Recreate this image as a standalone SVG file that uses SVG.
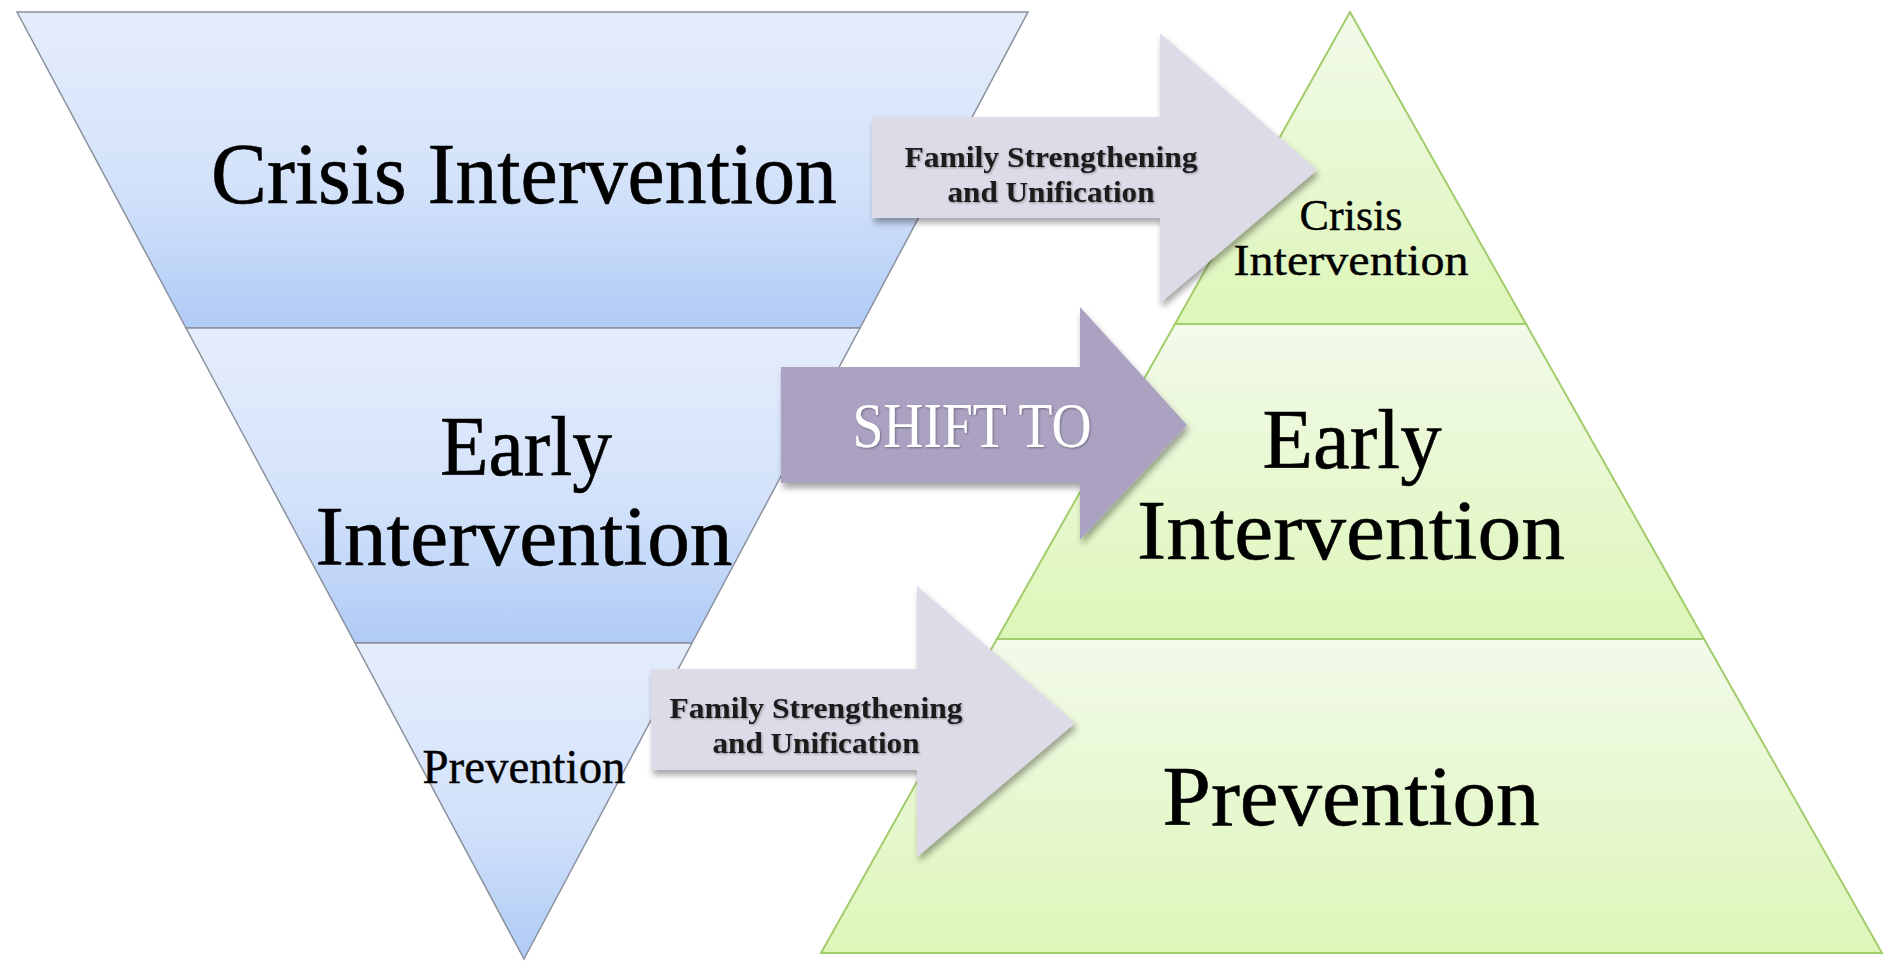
<svg xmlns="http://www.w3.org/2000/svg" width="1884" height="962" viewBox="0 0 1884 962">
<defs>
<linearGradient id="gBlue" x1="0" y1="0" x2="0" y2="1">
<stop offset="0" stop-color="#e5edfc"/>
<stop offset="0.55" stop-color="#d3e2fa"/>
<stop offset="1" stop-color="#b0cbf6"/>
</linearGradient>
<linearGradient id="gGreen" x1="0" y1="0" x2="0" y2="1">
<stop offset="0" stop-color="#f2faea"/>
<stop offset="1" stop-color="#ddf6b8"/>
</linearGradient>
<filter id="shadow" x="-10%" y="-10%" width="125%" height="130%">
<feDropShadow dx="2" dy="5" stdDeviation="3" flood-color="#000" flood-opacity="0.35"/>
</filter>
<filter id="tshadow" x="-5%" y="-10%" width="110%" height="130%">
<feDropShadow dx="1" dy="1" stdDeviation="0.8" flood-color="#000" flood-opacity="0.35"/>
</filter>
</defs>
<style>
.blue{fill:url(#gBlue);stroke:#8a909c;stroke-width:1.5}
.green{fill:url(#gGreen);stroke:#a3cc6c;stroke-width:2}
.lbl{font-family:"Liberation Serif","DejaVu Serif",serif;fill:#000;stroke:#000;stroke-width:0.6;text-anchor:middle}
.bold{font-family:"Liberation Serif","DejaVu Serif",serif;font-weight:bold;fill:#1a1a1a;text-anchor:middle}
.arrowLight{fill:#dddbe8}
.arrowDark{fill:#aba2c2}
.white{font-family:"Liberation Serif","DejaVu Serif",serif;fill:#ffffff;text-anchor:middle}
</style>
<rect width="1884" height="962" fill="#ffffff"/>

<g id="inverted-pyramid">
<g id="left-crisis">
<polygon class="blue" points="17,12 1028,12 860,328 186,328"/>
<text class="lbl" x="524" y="203" font-size="86" textLength="626" lengthAdjust="spacingAndGlyphs">Crisis Intervention</text>
</g>
<g id="left-early">
<polygon class="blue" points="186,328 860,328 692,643 355,643"/>
<text class="lbl" x="526" y="475" font-size="84" textLength="172" lengthAdjust="spacingAndGlyphs">Early</text>
<text class="lbl" x="524" y="565" font-size="84" textLength="417" lengthAdjust="spacingAndGlyphs">Intervention</text>
</g>
<g id="left-prevention">
<polygon class="blue" points="355,643 692,643 524,959"/>
<text class="lbl" x="524" y="783" font-size="49" textLength="203" lengthAdjust="spacingAndGlyphs" style="stroke-width:0.4">Prevention</text>
</g>
</g>

<g id="pyramid">
<g id="right-crisis">
<polygon class="green" points="1350,12 1526,324 1175,324"/>
<text class="lbl" x="1351" y="230" font-size="44" textLength="103" lengthAdjust="spacingAndGlyphs" style="stroke-width:0.4">Crisis</text>
<text class="lbl" x="1351" y="275" font-size="44" textLength="235" lengthAdjust="spacingAndGlyphs" style="stroke-width:0.4">Intervention</text>
</g>
<g id="right-early">
<polygon class="green" points="1175,324 1526,324 1704,639 997,639"/>
<text class="lbl" x="1352" y="468" font-size="84" textLength="179" lengthAdjust="spacingAndGlyphs">Early</text>
<text class="lbl" x="1351" y="559" font-size="84" textLength="428" lengthAdjust="spacingAndGlyphs">Intervention</text>
</g>
<g id="right-prevention">
<polygon class="green" points="997,639 1704,639 1882,953 821,953"/>
<text class="lbl" x="1351" y="825" font-size="84" textLength="377" lengthAdjust="spacingAndGlyphs">Prevention</text>
</g>
</g>

<g id="connectors">
<g id="arrow-top">
<path class="arrowLight" filter="url(#shadow)" d="M872,117 H1160 V33 L1317,170 L1160,303 V218 H872 Z"/>
<text class="bold" filter="url(#tshadow)" x="1051" y="167" font-size="29" textLength="293" lengthAdjust="spacingAndGlyphs">Family Strengthening</text>
<text class="bold" filter="url(#tshadow)" x="1051" y="202" font-size="29" textLength="207" lengthAdjust="spacingAndGlyphs">and Unification</text>
</g>
<g id="arrow-shift">
<path class="arrowDark" filter="url(#shadow)" d="M781,367 H1080 V307 L1187,425 L1080,540 V483 H781 Z"/>
<text class="white" filter="url(#tshadow)" x="972" y="447" font-size="64" textLength="239" lengthAdjust="spacingAndGlyphs">SHIFT TO</text>
</g>
<g id="arrow-bottom">
<path class="arrowLight" filter="url(#shadow)" d="M651,669 H917 V586 L1075,723 L917,857 V770 H651 Z"/>
<text class="bold" filter="url(#tshadow)" x="816" y="718" font-size="29" textLength="293" lengthAdjust="spacingAndGlyphs">Family Strengthening</text>
<text class="bold" filter="url(#tshadow)" x="816" y="753" font-size="29" textLength="207" lengthAdjust="spacingAndGlyphs">and Unification</text>
</g>
</g>
</svg>
